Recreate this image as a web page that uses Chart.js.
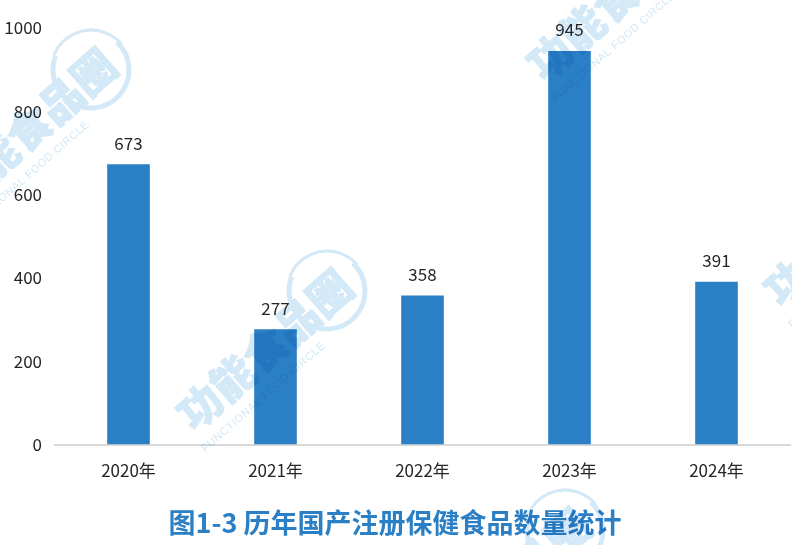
<!DOCTYPE html>
<html>
<head>
<meta charset="utf-8">
<script src="https://cdn.jsdelivr.net/npm/chart.js@4"></script>
<style>
html, body { margin: 0; padding: 0; background: #fff; }
canvas { display: block; }
</style>
</head>
<body>
<canvas id="chart" width="792" height="545"></canvas>
<script>
var years = ['2020年', '2021年', '2022年', '2023年', '2024年'];
var counts = [673, 277, 358, 945, 391];
var titleText = '图1-3 历年国产注册保健食品数量统计';

var cjk = '"Noto Sans CJK SC", "Noto Sans", sans-serif';
var barBlue = '#2b80c5';
var markBlue = '#d3e9f7';

// ring centres of the repeated watermark
var markSpots = [[91, 70], [327, 291], [677, -59], [565, 530], [914, 167]];

function drawMark(ctx, x, y) {
    ctx.save();
    ctx.translate(x, y);
    ctx.rotate(-41.3 * Math.PI / 180);
    ctx.strokeStyle = markBlue;
    ctx.fillStyle = markBlue;
    ctx.lineWidth = 5;
    ctx.beginPath();
    ctx.arc(0, 0, 38, -0.1, Math.PI * 1.35);
    ctx.stroke();
    ctx.lineWidth = 3;
    ctx.beginPath();
    ctx.arc(0, 0, 40, Math.PI * 1.35, Math.PI * 2);
    ctx.stroke();
    ctx.font = '900 43px ' + cjk;
    ctx.textAlign = 'right';
    ctx.textBaseline = 'middle';
    ctx.lineWidth = 0.9;
    ctx.fillText('功能食品圈', 22, 3);
    ctx.strokeText('功能食品圈', 22, 3);
    ctx.font = '11px "Liberation Sans", sans-serif';
    ctx.letterSpacing = '0.55px';
    ctx.textAlign = 'left';
    ctx.fillText('FUNCTIONAL FOOD CIRCLE', -198, 38);
    ctx.restore();
}

// painted once off screen so overlapping strokes do not darken each other
var markLayer = document.createElement('canvas');
markLayer.width = 792;
markLayer.height = 545;
markSpots.forEach(function (s) {
    drawMark(markLayer.getContext('2d'), s[0], s[1]);
});

var watermark = {
    id: 'watermark',
    beforeDraw: function (chart) {
        var ctx = chart.ctx;
        ctx.save();
        ctx.fillStyle = '#fff';
        ctx.fillRect(0, 0, chart.width, chart.height);
        ctx.restore();
    },
    afterDatasetsDraw: function (chart) {
        var ctx = chart.ctx;
        ctx.save();
        ctx.globalCompositeOperation = 'multiply';
        ctx.drawImage(markLayer, 0, 0, chart.width, chart.height);
        ctx.restore();
    }
};

var barLabels = {
    id: 'barLabels',
    afterDatasetsDraw: function (chart) {
        var ctx = chart.ctx;
        ctx.save();
        ctx.font = '17px ' + cjk;
        ctx.fillStyle = '#262626';
        ctx.textAlign = 'center';
        ctx.textBaseline = 'middle';
        chart.getDatasetMeta(0).data.forEach(function (bar, i) {
            ctx.fillText(counts[i], bar.x, bar.y - 21);
        });
        ctx.restore();
    }
};

var chart = new Chart('chart', {
    type: 'bar',
    plugins: [watermark, barLabels],
    data: {
        labels: years,
        datasets: [{
            data: counts,
            backgroundColor: barBlue,
            barPercentage: 0.29,
            categoryPercentage: 1
        }]
    },
    options: {
        responsive: false,
        animation: false,
        layout: { padding: { top: 28, right: 2, left: 0, bottom: 0 } },
        plugins: {
            legend: { display: false },
            tooltip: { enabled: false },
            title: {
                display: true,
                position: 'bottom',
                text: titleText,
                color: barBlue,
                font: { family: cjk, size: 27, weight: 'bold' },
                padding: { top: 12, bottom: 6 }
            }
        },
        scales: {
            x: {
                grid: { display: false },
                border: { display: true, color: '#d9d9d9', width: 2 },
                ticks: {
                    color: '#262626',
                    padding: 8,
                    maxRotation: 0,
                    font: { family: cjk, size: 17 }
                },
                afterFit: function (scale) { scale.height = 50; }
            },
            y: {
                min: 0,
                max: 1000,
                grid: { display: false },
                border: { display: false },
                ticks: {
                    stepSize: 200,
                    color: '#262626',
                    padding: 5,
                    font: { family: cjk, size: 17 },
                    callback: function (v) { return String(v); }
                },
                afterFit: function (scale) { scale.width = 55; }
            }
        }
    }
});
</script>
</body>
</html>
